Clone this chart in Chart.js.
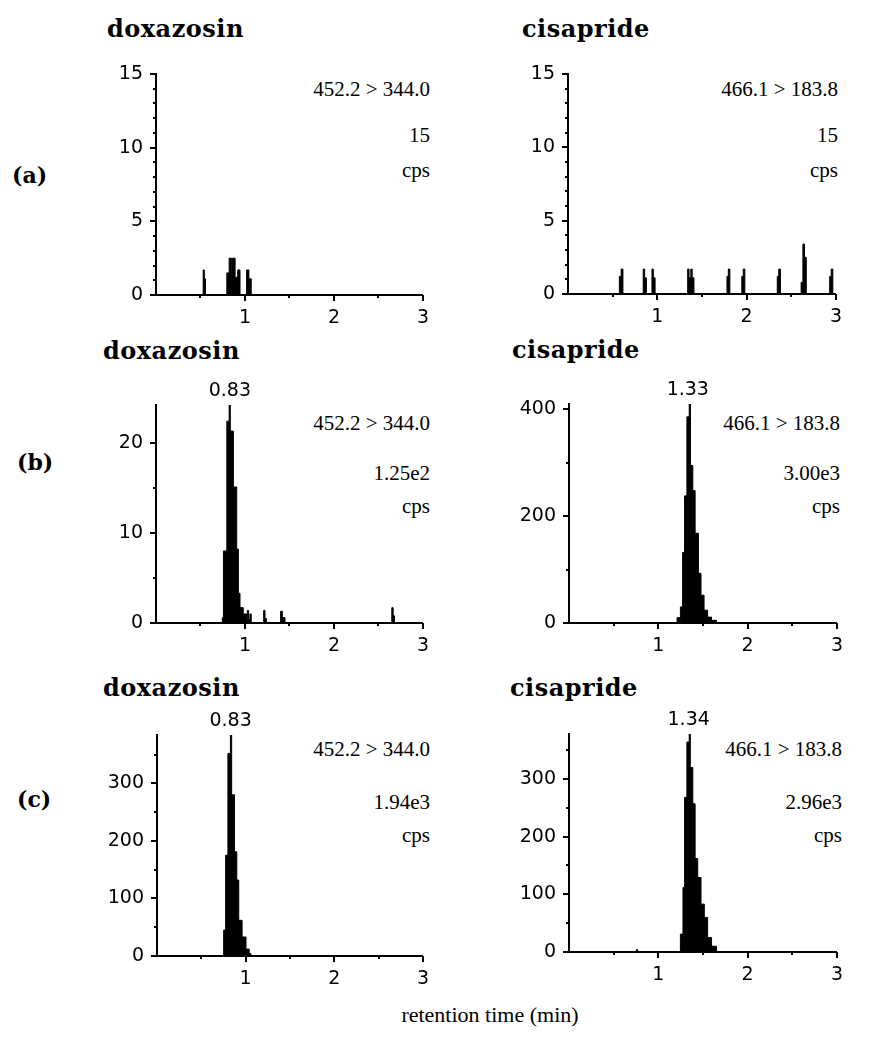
<!DOCTYPE html>
<html>
<head>
<meta charset="utf-8">
<script src="https://cdn.jsdelivr.net/npm/chart.js@4.4.1/dist/chart.umd.min.js"></script>
<style>
  body { margin: 0; background: #fff; }
  #page { position: relative; width: 890px; height: 1062px; overflow: hidden; }
  canvas { position: absolute; }
  .title { position: absolute; font: bold 24px "DejaVu Serif"; line-height: 24px; letter-spacing: 0.5px; white-space: nowrap; }
  .tag { position: absolute; font: bold 22px "DejaVu Serif"; line-height: 22px; }
  .note { position: absolute; font: 21px "Liberation Serif"; line-height: 21px; text-align: right; white-space: nowrap; }
  .xlabel { position: absolute; left: 0; width: 980px; text-align: center; font: 22px "Liberation Serif"; line-height: 22px; }
</style>
</head>
<body>
<div id="page">
  <div class="tag" style="left:12px;top:164px">(a)</div>
  <div class="tag" style="left:17px;top:451px">(b)</div>
  <div class="tag" style="left:17px;top:788px">(c)</div>

  <div class="title" style="left:107px;top:17px">doxazosin</div>
  <div class="title" style="left:522px;top:17px">cisapride</div>
  <div class="title" style="left:103px;top:339px">doxazosin</div>
  <div class="title" style="left:512px;top:338px">cisapride</div>
  <div class="title" style="left:103px;top:676px">doxazosin</div>
  <div class="title" style="left:510px;top:676px">cisapride</div>

  <div class="note" style="right:460px;top:79px">452.2 &gt; 344.0</div>
  <div class="note" style="right:460px;top:125px">15</div>
  <div class="note" style="right:460px;top:160px">cps</div>
  <div class="note" style="right:52px;top:79px">466.1 &gt; 183.8</div>
  <div class="note" style="right:52px;top:125px">15</div>
  <div class="note" style="right:52px;top:160px">cps</div>

  <div class="note" style="right:460px;top:413px">452.2 &gt; 344.0</div>
  <div class="note" style="right:460px;top:463px">1.25e2</div>
  <div class="note" style="right:460px;top:496px">cps</div>
  <div class="note" style="right:50px;top:413px">466.1 &gt; 183.8</div>
  <div class="note" style="right:50px;top:463px">3.00e3</div>
  <div class="note" style="right:50px;top:496px">cps</div>

  <div class="note" style="right:460px;top:739px">452.2 &gt; 344.0</div>
  <div class="note" style="right:460px;top:792px">1.94e3</div>
  <div class="note" style="right:460px;top:825px">cps</div>
  <div class="note" style="right:48px;top:739px">466.1 &gt; 183.8</div>
  <div class="note" style="right:48px;top:792px">2.96e3</div>
  <div class="note" style="right:48px;top:825px">cps</div>

  <div class="xlabel" style="top:1004px">retention time (min)</div>
</div>
<script>
// retention time axis (min)
const xMajor = [1, 2, 3];
const xMinor = [0.5, 1.5, 2.5];

// (a) blank - doxazosin
const aDoxTime = [0, 0.53, 0.543, 0.556, 0.796, 0.822, 0.85, 0.86, 0.889, 0.918, 0.944, 1.018, 1.044, 1.07, 3];
const aDoxCps = [0, 1.7, 1.1, 0, 1.5, 2.5, 1.0, 2.5, 1.2, 1.7, 0, 1.7, 1.1, 0, 0];
// (a) blank - cisapride
const aCisTime = [0, 0.575, 0.595, 0.615, 0.842, 0.858, 0.878, 0.94, 0.955, 0.975, 1.34, 1.355, 1.375, 1.39, 1.41,
  1.78, 1.795, 1.812, 1.946, 1.962, 1.98, 2.343, 2.36, 2.378, 2.61, 2.63, 2.648, 2.668, 2.93, 2.947, 2.965, 3];
const aCisCps = [0, 1.2, 1.7, 0, 1.7, 1.1, 0, 1.7, 1.1, 0, 1.7, 1.1, 1.7, 1.1, 0,
  1.2, 1.7, 0, 1.2, 1.7, 0, 1.2, 1.7, 0, 0.8, 3.4, 2.5, 0, 1.2, 1.7, 0, 0];
const aYMajor = [0, 5, 10, 15];
const aYMinor = [1, 2, 3, 4, 6, 7, 8, 9, 11, 12, 13, 14];

// (b) doxazosin
const bDoxTime = [0, 0.745, 0.758, 0.796, 0.822, 0.835, 0.87, 0.907, 0.926, 0.944, 0.98, 1.018, 1.026, 1.04, 1.05,
  1.055, 1.07, 1.21, 1.225, 1.24, 1.4, 1.42, 1.45, 2.65, 2.665, 2.68, 3];
const bDoxCps = [0, 0.6, 8.0, 22.4, 24.2, 21.3, 15.1, 8.2, 3.3, 1.7, 1.0, 0, 1.4, 0.4, 0,
  1.0, 0, 1.4, 0.5, 0, 1.3, 0.6, 0, 1.7, 0.8, 0, 0];
const bDoxYMajor = [0, 10, 20];
const bDoxYMinor = [5, 15];
// (b) cisapride
const bCisTime = [0, 1.21, 1.247, 1.272, 1.294, 1.32, 1.346, 1.36, 1.386, 1.412, 1.449, 1.478, 1.512, 1.552, 1.596, 1.651, 3];
const bCisCps = [0, 10, 30, 132, 238, 386, 410, 295, 248, 168, 93, 52, 24, 11, 5, 0, 0];
const bCisYMajor = [0, 200, 400];
const bCisYMinor = [100, 300];

// (c) doxazosin
const cDoxTime = [0, 0.752, 0.774, 0.8, 0.828, 0.842, 0.874, 0.9, 0.922, 0.96, 1.004, 1.04, 1.06, 3];
const cDoxCps = [0, 45, 175, 352, 384, 280, 181, 132, 62, 33, 12, 4, 0, 0];
// (c) cisapride
const cCisTime = [0, 0.755, 0.77, 1.247, 1.276, 1.294, 1.32, 1.346, 1.358, 1.386, 1.412, 1.441, 1.478, 1.515, 1.552, 1.596, 1.651, 3];
const cCisCps = [0, 4, 0, 31, 112, 268, 364, 378, 320, 257, 162, 129, 83, 60, 25, 10, 0, 0];
const cYMajor = [0, 100, 200, 300];
const cYMinor = [50, 150, 250, 350];

const PAD_TOP = 34, PAD_RIGHT = 14, Y_W = 60, X_H = 40;
const page = document.getElementById("page");

// short tick marks, long for majors
const axisTicks = {
  id: "axisTicks",
  afterDraw(chart, args, o) {
    const { ctx, chartArea: a, scales: { x, y } } = chart;
    ctx.save();
    ctx.strokeStyle = "#000";
    ctx.lineWidth = 2;
    const mark = (vals, len, isX) => vals.forEach((v) => {
      ctx.beginPath();
      if (isX) {
        const px = Math.round(x.getPixelForValue(v));
        ctx.moveTo(px, a.bottom);
        ctx.lineTo(px, a.bottom + len);
      } else {
        const py = Math.round(y.getPixelForValue(v));
        ctx.moveTo(a.left, py);
        ctx.lineTo(a.left - len, py);
      }
      ctx.stroke();
    });
    mark(o.xMajor, 6, true);
    mark(o.xMinor, 3, true);
    mark(o.yMajor, 6, false);
    mark(o.yMinor, 3, false);
    ctx.restore();
  },
};

const peakLabel = {
  id: "peakLabel",
  afterDraw(chart, args, o) {
    if (!o.text) return;
    const { ctx, chartArea: a, scales: { x } } = chart;
    ctx.save();
    ctx.fillStyle = "#000";
    ctx.font = "19px 'DejaVu Sans'";
    ctx.textAlign = "center";
    ctx.textBaseline = "alphabetic";
    ctx.fillText(o.text, x.getPixelForValue(o.at), a.top - 9);
    ctx.restore();
  },
};

function makePanel(p) {
  const [L, T, R, B] = p.area;
  const cv = document.createElement("canvas");
  cv.width = R - L + Y_W + PAD_RIGHT;
  cv.height = B - T + PAD_TOP + X_H;
  cv.style.left = L - Y_W + "px";
  cv.style.top = T - PAD_TOP + "px";
  page.appendChild(cv);

  const tickFont = { family: "DejaVu Sans", size: 19 };
  return new Chart(cv, {
    type: "line",
    data: {
      datasets: [{
        data: p.time.map((t, i) => ({ x: t, y: p.cps[i] })),
        stepped: true,
        fill: "origin",
        borderColor: "#000",
        backgroundColor: "#000",
        borderWidth: 1,
        pointRadius: 0,
      }],
    },
    options: {
      responsive: false,
      animation: false,
      events: [],
      layout: { padding: { top: PAD_TOP, right: PAD_RIGHT, left: 0, bottom: 0 } },
      plugins: {
        legend: { display: false },
        tooltip: { enabled: false },
        axisTicks: { xMajor, xMinor, yMajor: p.yMajor, yMinor: p.yMinor },
        peakLabel: { text: p.peak ? p.peak[0] : "", at: p.peak ? p.peak[1] : 0 },
      },
      scales: {
        x: {
          type: "linear",
          min: 0,
          max: 3,
          afterFit: (s) => { s.height = X_H; },
          afterBuildTicks: (s) => { s.ticks = xMajor.map((v) => ({ value: v })); },
          grid: { display: false, drawTicks: false },
          border: { display: true, color: "#000", width: 2 },
          ticks: { padding: 12, color: "#000", font: tickFont, maxRotation: 0, autoSkip: false, callback: (v) => String(v) },
        },
        y: {
          type: "linear",
          min: 0,
          max: p.yMax,
          afterFit: (s) => { s.width = Y_W; },
          afterBuildTicks: (s) => { s.ticks = p.yMajor.map((v) => ({ value: v })); },
          grid: { display: false, drawTicks: false },
          border: { display: true, color: "#000", width: 2 },
          ticks: { padding: 13, color: "#000", font: tickFont, callback: (v) => String(v) },
        },
      },
    },
    plugins: [axisTicks, peakLabel],
  });
}

makePanel({ area: [156, 74, 427, 295], time: aDoxTime, cps: aDoxCps, yMax: 15, yMajor: aYMajor, yMinor: aYMinor });
makePanel({ area: [568, 74, 840, 294], time: aCisTime, cps: aCisCps, yMax: 15, yMajor: aYMajor, yMinor: aYMinor });
makePanel({ area: [156, 405, 427, 623], time: bDoxTime, cps: bDoxCps, yMax: 24.2, yMajor: bDoxYMajor, yMinor: bDoxYMinor, peak: ["0.83", 0.83] });
makePanel({ area: [569, 404, 841, 623], time: bCisTime, cps: bCisCps, yMax: 410, yMajor: bCisYMajor, yMinor: bCisYMinor, peak: ["1.33", 1.33] });
makePanel({ area: [157, 735, 427, 956], time: cDoxTime, cps: cDoxCps, yMax: 384, yMajor: cYMajor, yMinor: cYMinor, peak: ["0.83", 0.83] });
makePanel({ area: [569, 734, 841, 952], time: cCisTime, cps: cCisCps, yMax: 378, yMajor: cYMajor, yMinor: cYMinor, peak: ["1.34", 1.34] });
</script>
</body>
</html>
